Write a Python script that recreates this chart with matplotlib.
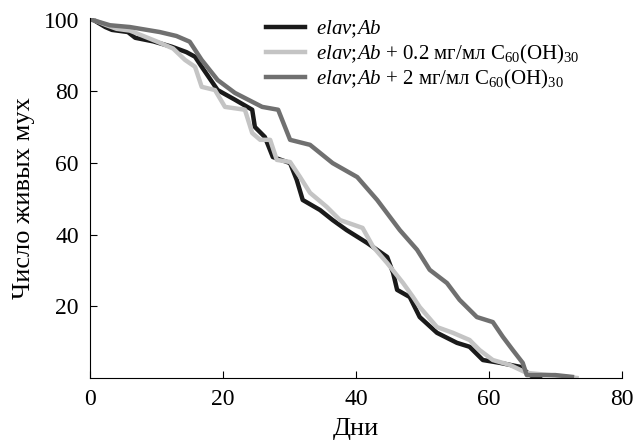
import matplotlib
matplotlib.use("Agg")
from matplotlib import pyplot as plt

plt.rcParams['font.family'] = ['Liberation Serif', 'DejaVu Serif']
plt.rcParams['mathtext.fontset'] = 'custom'
plt.rcParams['mathtext.rm'] = 'Liberation Serif'
plt.rcParams['mathtext.it'] = 'Liberation Serif:italic'

# elav;Ab
days_ctrl = [0.5, 2.3, 3.3, 5.7, 6.8, 9.5, 12.3, 14.5, 15.8, 16.8, 19.2, 21.8, 24.4, 24.8,
             26.3, 27.5, 30.1, 31.1, 32.0, 34.6, 36.5, 38.6, 41.7, 44.7, 45.6, 46.2, 48.1,
             49.6, 52.2, 55.2, 57.1, 59.1, 61.7, 64.7, 66.6, 67.7]
alive_ctrl = [100, 98, 97.2, 96.6, 95, 94, 92.5, 91, 89.7, 86.9, 80.4, 77.7, 74.9, 70.1,
              67.3, 61.7, 60, 55.3, 49.7, 46.9, 44.1, 41.3, 37.7, 33.8, 29.3, 24.6, 22.6,
              17, 12.6, 9.8, 8.7, 5, 4.2, 3.1, 0.3, 0]

# elav;Ab + 0.2 mg/ml
days_low = [0.5, 2.5, 4, 6, 8, 10, 12.5, 14.3, 15.8, 16.8, 18.8, 20.3, 23.3, 24.4, 25.6,
            27.1, 28.1, 30.1, 31.6, 33.1, 35.6, 37.6, 41.0, 42.6, 44.7, 47.1, 48.6, 49.6,
            52.2, 54.6, 57.1, 58.6, 60.6, 63.2, 65.7, 69.2, 73.2]
alive_low = [100, 98.5, 97.5, 97, 95.5, 94, 92, 88.8, 86.9, 81.3, 80.4, 75.7, 74.9, 68.4,
             66.5, 66.5, 60.9, 60.3, 56.1, 51.7, 47.8, 44.1, 41.9, 36.6, 32.1, 26.5, 22.6,
             19.8, 14.2, 12.6, 10.6, 7.8, 5, 3.6, 1.4, 0.8, 0]

# elav;Ab + 2 mg/ml
days_high = [0.3, 3, 6, 10.5, 13, 15, 16.8, 19.2, 21.8, 25.9, 28.3, 30.1, 33.1, 36.5, 40.2,
             43.2, 46.6, 49.2, 51.1, 53.7, 55.6, 58.2, 60.6, 62.1, 63.6, 65.1, 65.7, 70, 72.5]
alive_high = [100, 98.5, 98, 96.6, 95.5, 93.9, 88.8, 83.2, 79.6, 75.7, 74.9, 66.5, 65.1, 60,
              56.1, 49.7, 41.3, 35.8, 30.2, 26.5, 21.8, 17, 15.6, 11.5, 7.8, 4.2, 0.8, 0.8, 0.3]

labels = [r"$\mathit{elav;\!Ab}$",
          r"$\mathit{elav;\!Ab}$ + 0.2 мг/мл C$_{60}$(OH)$_{30}$",
          r"$\mathit{elav;\!Ab}$ + 2 мг/мл C$_{60}$(OH)$_{30}$"]

fig = plt.figure(figsize=(6.43, 4.41), dpi=100)
ax = fig.add_axes([0.14, 0.143, 0.827, 0.816])

ax.plot(days_ctrl, alive_ctrl, color='#1a1a1a', lw=3.2, label=labels[0])
ax.plot(days_low, alive_low, color='#c4c4c4', lw=3.2, label=labels[1])
ax.plot(days_high, alive_high, color='#707070', lw=3.2, label=labels[2])

ax.set_xlim(0, 80)
ax.set_ylim(0, 100.5)
ax.set_xticks([0, 20, 40, 60, 80])
ax.set_yticks([20, 40, 60, 80, 100])
ax.spines['top'].set_visible(False)
ax.spines['right'].set_visible(False)
ax.tick_params(direction='in', length=5, labelsize=17, pad=8)
ax.set_xlabel('Дни', fontsize=19, labelpad=6)
ax.set_ylabel('Число живых мух', fontsize=19, labelpad=6)

ax.legend(loc='upper left', bbox_to_anchor=(0.295, 1.05), frameon=False, fontsize=15,
          handlelength=1.9, labelspacing=0.1, handletextpad=0.5)

fig.savefig('out.png', dpi=100)
